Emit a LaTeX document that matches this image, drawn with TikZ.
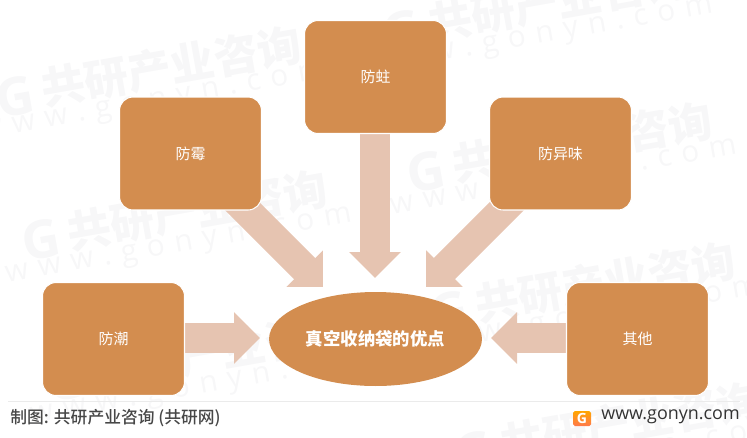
\documentclass[tikz,border=0pt]{standalone}
\usepackage{fontspec}
\setmainfont{Noto Sans CJK SC}
\newfontfamily\urlfont{Open Sans}
\newfontfamily\srcfont[UprightFont=* Medium]{Noto Sans CJK SC}
\usetikzlibrary{arrows.meta, backgrounds, shapes.geometric}
\definecolor{boxorange}{HTML}{D38D4F}
\definecolor{arrowpink}{HTML}{E6C4B1}
\definecolor{markgray}{HTML}{F7F7F8}
\tikzset{
  benefit/.style={draw=white, line width=.6pt, fill=boxorange, rounded corners=.27cm, text=white,
    minimum width=2.84cm, minimum height=2.26cm, font=\fontsize{8.5pt}{10pt}\selectfont},
  bigarrow/.style={draw=arrowpink, line width=.6cm, -{Triangle[width=1cm,length=.52cm]}},
  markname/.style={text=markgray, rotate=10, font=\fontsize{25pt}{27pt}\selectfont\bfseries},
  markurl/.style={text=markgray, rotate=10, font=\urlfont\fontsize{17pt}{19pt}\selectfont}
}
\newcommand{\wmark}[3]{
  \node [markname] (#1n) at (#2,#3) {共研产业咨询};
  \node [markname, font=\urlfont\fontsize{30pt}{32pt}\selectfont\bfseries] (#1g) at ([shift={(-156,30)}]#1n.center) {G};
  \node [markurl] (#1u) at ([shift={(-18,37.5)}]#1n.center) {w\,\,w\,\,w\,\,.\,\,g\,\,o\,\,n\,\,y\,\,n\,\,.\,\,c\,\,o\,\,m};
}
\begin{document}
\begin{tikzpicture}[x=.02cm, y=-.02cm]
  \useasboundingbox (0,0) rectangle (747,437);
  % boxes
  \node [benefit] (moth) at (375.5,77) {防蛀};
  \node [benefit] (mold) at (190.5,153.5) {防霉};
  \node [benefit] (odor) at (560.5,153.5) {防异味};
  \node [benefit] (damp) at (113.5,339) {防潮};
  \node [benefit] (other) at (637.5,339) {其他};
  \node [ellipse, fill=boxorange, text=white, inner sep=0pt, minimum width=4.26cm, minimum height=1.88cm,
    font=\fontsize{9.9pt}{12pt}\selectfont\bfseries] (bag) at (375.5,339) {真空收纳袋的优点};
  % free ends of the arrows
  \coordinate (mothtip) at (375,278);
  \coordinate (moldtip) at (323,287);
  \coordinate (odortip) at (426,287);
  \coordinate (damptip) at (260,338);
  \coordinate (othertip) at (491,338);
  \begin{scope}[on background layer]
    \wmark{a}{171}{66.5}
    \wmark{b}{558}{1}
    \wmark{c}{197}{210}
    \wmark{d}{582}{142}
    \wmark{e}{605}{282}
    \wmark{f}{222}{351}
    \wmark{g}{630}{422}
    \draw [bigarrow] (moth.center -| mothtip) -- (mothtip);
    \draw [bigarrow] ([shift={(44.5,45.5)}]mold.center) -- (moldtip);
    \draw [bigarrow] ([shift={(-46.5,45.5)}]odor.center) -- (odortip);
    \draw [bigarrow] (damp.center |- damptip) -- (damptip);
    \draw [bigarrow] (other.center |- othertip) -- (othertip);
  \end{scope}
  % footer
  \coordinate (ruleleft) at (8,401);
  \coordinate (ruleright) at (740,401);
  \draw [color=black!8, line width=.5pt] (ruleleft) -- (ruleright);
  \node [anchor=west, inner sep=0pt, text=black!72, font=\srcfont\fontsize{9.55pt}{11pt}\selectfont] (source) at (10,418) {制图: 共研产业咨询 (共研网)};
  \node [anchor=east, inner sep=0pt, text=black!80, font=\urlfont\fontsize{10.2pt}{12pt}\selectfont] (site) at (740,417) {www.gonyn.com};
  \node [rounded corners=1pt, top color=orange!70!yellow, bottom color=red!50!orange!70, text=white, inner sep=0pt,
    minimum width=.36cm, minimum height=.3cm, font=\urlfont\fontsize{8pt}{9pt}\selectfont\bfseries] (logo) at (582,418.5) {G};
\end{tikzpicture}
\end{document}
